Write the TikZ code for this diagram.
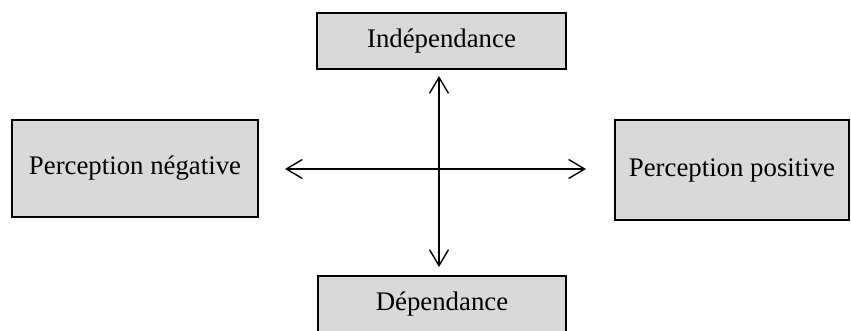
\documentclass[tikz,border=0pt]{standalone}
\usepackage{fontspec}
\setmainfont{Liberation Serif}
\usetikzlibrary{arrows.meta}
\definecolor{boxfill}{HTML}{D9D9D9}
\begin{document}
\begin{tikzpicture}[x=1pt,y=-1pt,
  labelbox/.style={draw=black, line width=2.2pt, fill=boxfill, inner sep=0pt,
    font=\fontsize{26.8}{31}\selectfont, text=black},
  axis/.style={line width=1.4pt, {Straight Barb[length=16pt,width=19pt]}-{Straight Barb[length=16pt,width=19pt]}}]
  \useasboundingbox (0,0) rectangle (851,331);
  % the four poles
  \node[labelbox, minimum width=249pt, minimum height=56pt] (ind) at (441.5,41) {Indépendance};
  \node[labelbox, minimum width=246pt, minimum height=97pt] (neg) at (135,168.5) {Perception négative};
  \node[labelbox, minimum width=234pt, minimum height=100pt] (pos) at (732,170) {Perception positive};
  \node[labelbox, minimum width=248pt, minimum height=56pt] (dep) at (442,304) {Dépendance};
  % arrow ends
  \coordinate (top) at (439,76);
  \coordinate (bottom) at (439,267);
  \coordinate (left) at (285,169);
  \coordinate (right) at (586,169);
  % the two axes
  \draw[axis] (top) -- (bottom);
  \draw[axis] (left) -- (right);
\end{tikzpicture}
\end{document}
